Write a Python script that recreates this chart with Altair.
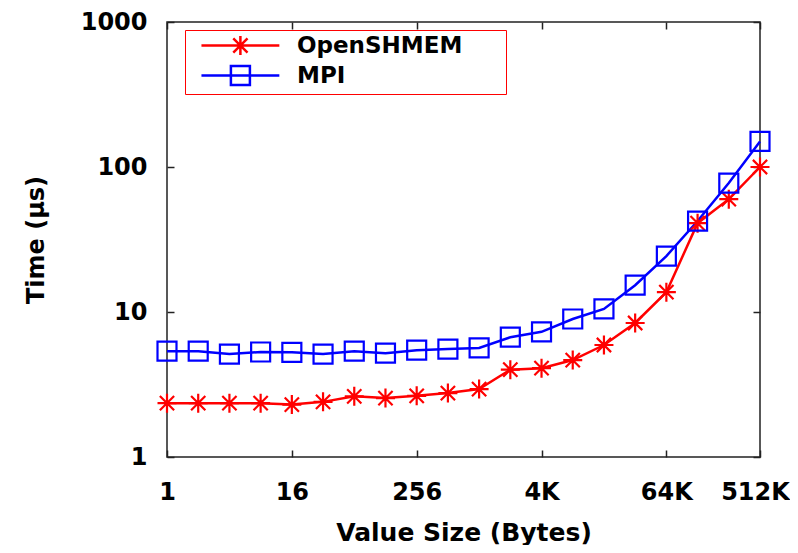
import altair as alt
import pandas as pd

# ---- data ----
sizes = [1, 2, 4, 8, 16, 32, 64, 128, 256, 512, 1024, 2048, 4096, 8192,
         16384, 32768, 65536, 131072, 262144, 524288]
openshmem = [2.35, 2.35, 2.35, 2.35, 2.30, 2.40, 2.62, 2.55, 2.64, 2.76,
             2.94, 4.00, 4.10, 4.66, 5.92, 8.40, 13.7, 41.0, 60.0, 100.0]
mpi = [5.37, 5.37, 5.13, 5.30, 5.27, 5.13, 5.37, 5.20, 5.45, 5.55,
       5.65, 6.70, 7.30, 8.95, 10.5, 15.3, 24.3, 42.4, 77.5, 150.0]
series_names = ["OpenSHMEM", "MPI"]
series_colors = ["#ff0000", "#0000ff"]
x_tick_values = [1, 16, 256, 4096, 65536, 524288]
y_tick_values = [1, 10, 100, 1000]

rows = []
for name, vals in zip(series_names, [openshmem, mpi]):
    for s, v in zip(sizes, vals):
        rows.append({"size": s, "time": v, "series": name})
df = pd.DataFrame(rows)

FONT = "DejaVu Sans"

# marker shapes (unit paths, scaled by sqrt(size)/2)
star = "M-1,0L1,0M0,-1L0,1M-0.75,-0.75L0.75,0.75M-0.75,0.75L0.75,-0.75"
square = "M-1,-1L1,-1L1,1L-1,1Z"
# legend shapes: line with marker in the middle (+ invisible bound anchors)
L0, L1, C, R = 0.1, 8.3, 4.2, 31.2
star_leg = (f"M-1,0M{R},0M{L0},0L{L1},0M{C},-1L{C},1M{C-0.75},-0.75L{C+0.75},0.75"
            f"M{C-0.75},0.75L{C+0.75},-0.75")
square_leg = f"M-1,0M{R},0M{L0},0L{L1},0M{C-1},-1L{C+1},-1L{C+1},1L{C-1},1Z"

xscale = alt.Scale(type="log", base=2, domain=[1, 524288], nice=False)
yscale = alt.Scale(type="log", domain=[1, 1000], nice=False)
cscale = alt.Scale(domain=series_names, range=series_colors)

axis_common = dict(domain=False, grid=False, tickSize=7, tickWidth=1.5,
                   tickColor="#222", offset=-7, labelFlush=False,
                   labelOverlap=False)

x_bottom = alt.X("size:Q", scale=xscale, axis=alt.Axis(
    orient="bottom", values=x_tick_values,
    labelExpr="datum.value >= 1024 ? (datum.value / 1024) + 'K' : '' + datum.value",
    labelOffset={"condition": {"test": "datum.value >= 524288", "value": -5},
                 "value": 0},
    labelFont=FONT, labelFontSize=24, labelFontWeight="bold", labelColor="black",
    labelPadding=23, title="Value Size (Bytes)", titleFont=FONT,
    titleFontSize=25, titleFontWeight="bold", titleColor="black",
    titlePadding=16, **axis_common))
y_left = alt.Y("time:Q", scale=yscale, axis=alt.Axis(
    orient="left", values=y_tick_values, labelExpr="'' + datum.value",
    labelFont=FONT, labelFontSize=24, labelFontWeight="bold", labelColor="black",
    labelPadding=20, title="Time (μs)", titleFont=FONT, titleFontSize=24,
    titleFontWeight="bold", titleColor="black", titlePadding=32,
    **axis_common))
x_top = alt.X("size:Q", scale=xscale, axis=alt.Axis(
    orient="top", values=x_tick_values, labels=False, title=None, **axis_common))
y_right = alt.Y("time:Q", scale=yscale, axis=alt.Axis(
    orient="right", values=y_tick_values, labels=False, title=None, **axis_common))

base = alt.Chart(df)

lines = base.mark_line(strokeWidth=2.5).encode(
    x=x_bottom, y=y_left,
    color=alt.Color("series:N", scale=cscale, legend=None),
    detail="series:N",
    order="size:Q",
)

points = base.mark_point(filled=False, size=361, strokeWidth=2.2, opacity=1).encode(
    x=x_top, y=y_right,
    color=alt.Color("series:N", scale=cscale, legend=None),
    shape=alt.Shape("series:N", scale=alt.Scale(domain=series_names,
                                                range=[star, square]), legend=None),
)

legend_def = alt.Legend(
    title=None, orient="none", legendX=18, legendY=8, padding=4, rowPadding=1,
    strokeColor="#ff0000", fillColor="white",
    labelFont=FONT, labelFontSize=23, labelFontWeight="bold", labelColor="black",
    labelOffset=85, labelLimit=400, symbolSize=361, symbolStrokeWidth=2.5,
    symbolOpacity=1,
)

legend_layer = base.mark_point(filled=False, size=361, strokeWidth=2.5, opacity=1).encode(
    x=alt.X("size:Q", scale=xscale, axis=None),
    y=alt.Y("time:Q", scale=yscale, axis=None),
    color=alt.Color("series:N", scale=cscale, legend=legend_def),
    shape=alt.Shape("series:N", scale=alt.Scale(domain=series_names,
                                                range=[star_leg, square_leg]),
                    legend=legend_def),
).transform_filter("datum.time < 0")

chart = alt.layer(lines, points, legend_layer).resolve_scale(
    color="independent", shape="independent"
).resolve_axis(
    x="independent", y="independent"
).properties(
    width=593, height=435,
    padding={"left": 159, "top": 14, "right": 30, "bottom": 88},
    autosize=alt.AutoSizeParams(type="none"),
).configure_view(stroke="#222", strokeWidth=1.5)

chart.save("out.html", embed_options={"renderer": "svg", "actions": False})
